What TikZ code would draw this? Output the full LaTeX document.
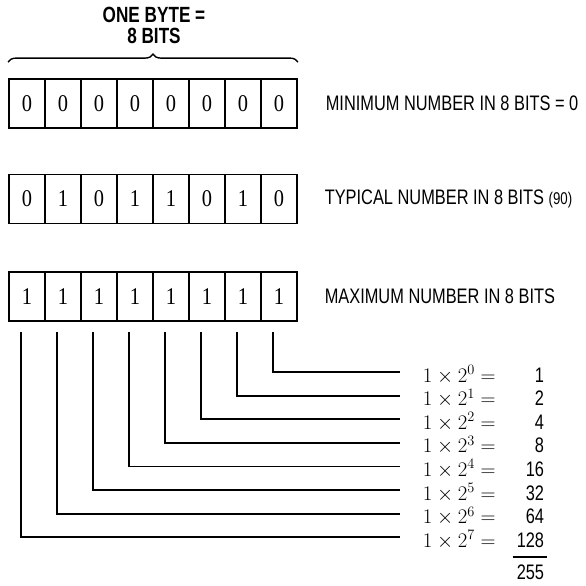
\documentclass[tikz,border=0pt]{standalone}
\usepackage{fontspec}
\usetikzlibrary{positioning, decorations.pathreplacing}
\newfontfamily\condsans{Liberation Sans}[FakeStretch=0.78]
\newfontfamily\bitfont{Liberation Serif}[FakeStretch=0.85]

\begin{document}
\begin{tikzpicture}[x=1pt, y=-1pt, line width=1.8pt,
    bitcell/.style={draw, minimum width=36pt, minimum height=49pt, inner sep=0pt, font=\fontsize{24}{26}\bitfont},
    rowlbl/.style={inner sep=0pt, font=\fontsize{21}{23}\condsans},
    pwr/.style={inner sep=0pt, font=\fontsize{20}{22}\selectfont},
    val/.style={inner sep=0pt, font=\fontsize{21}{23}\condsans}]
  \useasboundingbox (0,0) rectangle (586,586);

  % the three bytes
  \foreach \row/\yy/\bits in {a/103.5/{0,0,0,0,0,0,0,0}, b/199/{0,1,0,1,1,0,1,0}, c/296.5/{1,1,1,1,1,1,1,1}}
    \foreach \b [count=\i] in \bits
      \node[bitcell] (\row\i) at ({9+36*(\i-0.5)},\yy) {\b};

  \draw[line width=1.4pt, decorate, decoration={brace, amplitude=8pt}]
    ([yshift=16pt]a1.north west) -- ([yshift=16pt]a8.north east);
  \node[font=\fontsize{22}{21}\condsans\bfseries, align=center] (hdr) at (154,25) {ONE BYTE =\\8 BITS};

  \node[rowlbl, right=27pt of a8] (lmin) {MINIMUM NUMBER IN 8 BITS = 0};
  \node[rowlbl, right=26pt of b8] (ltyp) {TYPICAL NUMBER IN 8 BITS {\fontsize{17}{19}\selectfont(90)}};
  \node[rowlbl, right=26pt of c8] (lmax) {MAXIMUM NUMBER IN 8 BITS};

  % bit weights
  \foreach \i in {1,...,8}{
    \pgfmathtruncatemacro\k{8-\i}
    \pgfmathtruncatemacro\v{2^\k}
    \coordinate (w\k) at (400,{372+23.6*\k});
    \draw ([xshift=-6pt,yshift=-10pt]c\i.south) |- (w\k);
    \node[pwr, anchor=base west] (p\k) at ([xshift=22pt,yshift=-10pt]w\k) {$1\times2^{\k}=$};
    \node[val, anchor=base east] (v\k) at ([xshift=145pt,yshift=-10pt]w\k) {\v};
  }

  % sum
  \draw ([xshift=-3pt,yshift=-9pt]v7.south west) -- ([xshift=2pt,yshift=-9pt]v7.south east);
  \node[val, anchor=base east] (tot) at ([yshift=-32pt]v7.base east) {255};
\end{tikzpicture}
\end{document}
